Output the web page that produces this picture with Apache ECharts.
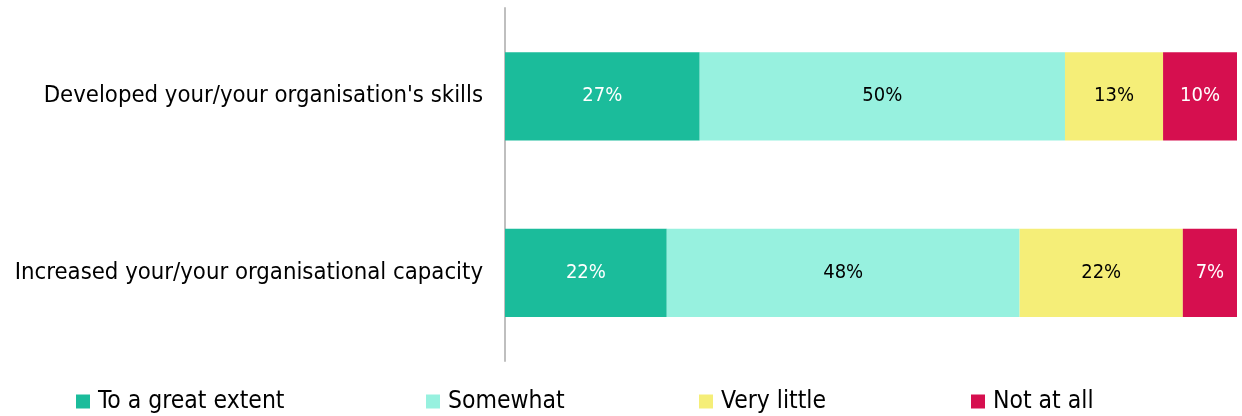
<!DOCTYPE html>
<html><head><meta charset="utf-8">
<script src="https://cdn.jsdelivr.net/npm/echarts@6/dist/echarts.min.js"></script>
<style>html,body{margin:0;padding:0;background:#fff}#c{width:1242px;height:416px}</style>
</head><body><div id="c"></div>
<script>
const categories = ["Developed your/your organisation's skills", "Increased your/your organisational capacity"];
const seriesNames = ["To a great extent", "Somewhat", "Very little", "Not at all"];
const greatExtent = [26.6, 22.1];
const somewhat = [49.9, 48.2];
const veryLittle = [13.4, 22.3];
const notAtAll = [10.1, 7.4];
const colors = ["#1BBC9B", "#97F1DF", "#F5EE78", "#D60F4F"];
const labelColors = ["#ffffff", "#000000", "#000000", "#ffffff"];
const legendLefts = [76, 426, 699, 971];

const FONT = "'DejaVu Sans Condensed', 'DejaVu Sans'";
const values = [greatExtent, somewhat, veryLittle, notAtAll];
const chart = echarts.init(document.getElementById('c'), null, {renderer: 'canvas'});
chart.setOption({
  animation: false,
  textStyle: {fontFamily: FONT},
  grid: {left: 505, right: 5, top: 8, bottom: 55},
  xAxis: {type: 'value', min: 0, max: 100, show: false},
  yAxis: {
    type: 'category', data: categories, inverse: true,
    axisLine: {show: true, lineStyle: {color: '#bfbfbf', width: 2}},
    axisTick: {show: false},
    axisLabel: {color: '#000', fontSize: 23.7, fontFamily: FONT, margin: 22}
  },
  legend: seriesNames.map((n, i) => ({
    data: [n], left: legendLefts[i], top: 389, padding: 0, itemWidth: 14, itemHeight: 14, itemGap: 6,
    icon: 'rect', textStyle: {fontSize: 24.5, color: '#000', fontFamily: FONT, padding: [0,0,0,3]}
  })),
  series: seriesNames.map((n, i) => ({
    name: n, type: 'bar', stack: 'total', barWidth: '50%',
    itemStyle: {color: colors[i]},
    label: {show: true, position: 'inside', color: labelColors[i], fontSize: 20, fontFamily: FONT,
      formatter: p => Math.round(p.value) + '%'},
    data: values[i]
  }))
});
</script></body></html>
